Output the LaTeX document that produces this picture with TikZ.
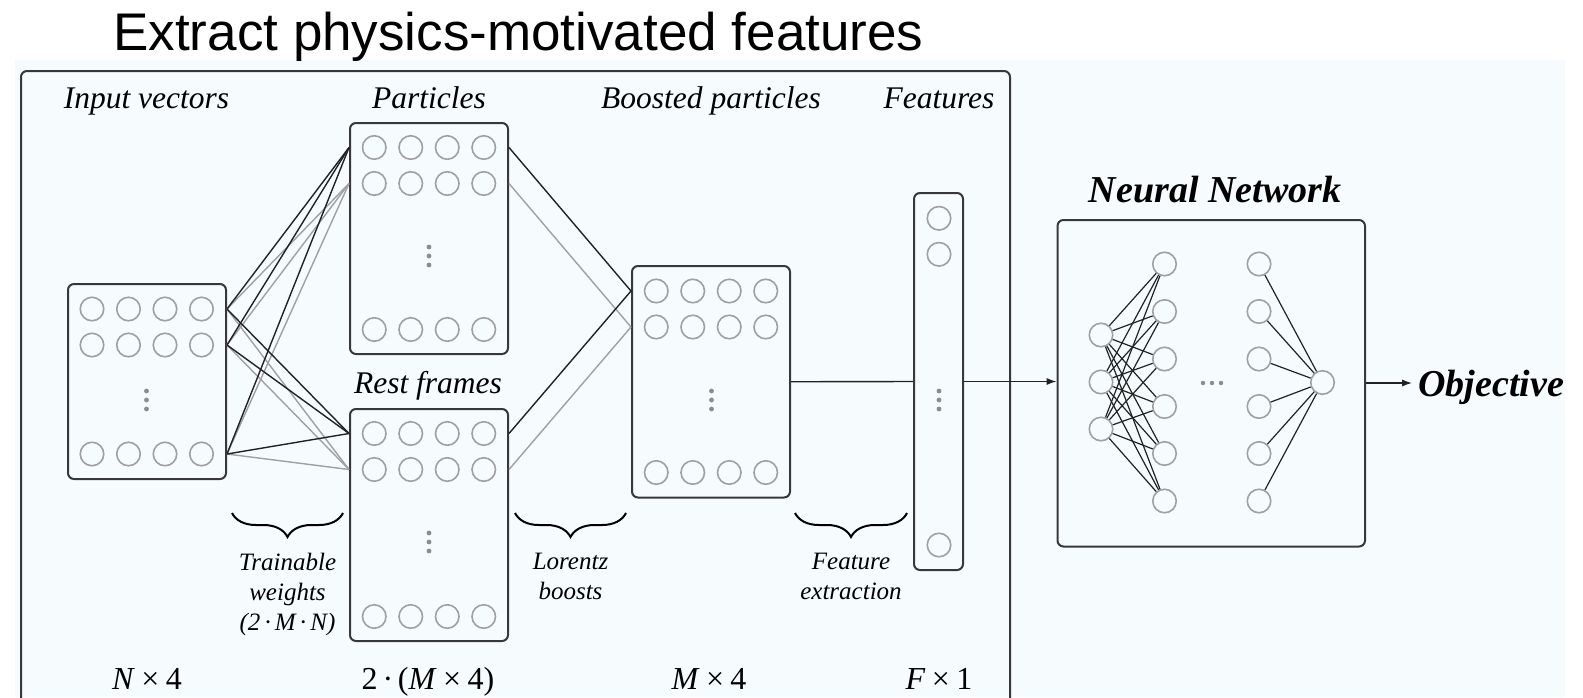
\documentclass[tikz,border=0pt]{standalone}
\usepackage{fontspec}
\setmainfont{Liberation Serif}
\newfontfamily\titlefont{Liberation Sans}
\usetikzlibrary{decorations.pathreplacing,arrows.meta}

\definecolor{panelbg}{RGB}{246,252,254}
\definecolor{boxline}{RGB}{56,56,56}
\definecolor{ringgray}{RGB}{160,160,160}
\definecolor{wiredark}{RGB}{34,34,34}
\definecolor{wirelight}{RGB}{160,160,160}
\definecolor{dotgray}{RGB}{140,140,140}

\begin{document}
\begin{tikzpicture}[x=0.5pt,y=-0.5pt,
  box/.style={draw=boxline,line width=1pt,rounded corners=3pt,inner sep=0pt},
  unit/.style={circle,draw=ringgray,line width=0.8pt,minimum size=11.75pt,inner sep=0pt},
  wiredk/.style={draw=wiredark,line width=0.7pt},
  wirelt/.style={draw=wirelight,line width=0.7pt},
  nnwire/.style={draw=wiredark,line width=0.6pt},
  header/.style={anchor=base,inner sep=0pt,font=\fontsize{15.75}{18}\selectfont\itshape},
  dimlabel/.style={anchor=base,inner sep=0pt,font=\fontsize{16}{19}\selectfont},
  steplabel/.style={anchor=north,inner sep=0pt,align=center,font=\fontsize{12.5}{15}\selectfont\itshape},
  nnlabel/.style={font=\fontsize{19}{22}\selectfont\bfseries\itshape},
  bracepath/.style={draw=black,line width=1pt,decorate,decoration={brace,mirror,amplitude=12pt}},
  flowarrow/.style={draw=wiredark,line width=0.7pt,-{Latex[length=5pt,width=3.6pt]}},
  vdots/.pic={\fill[dotgray] (0,-9) circle (2.4) (0,0) circle (2.4) (0,9) circle (2.4);},
  hdots/.pic={\fill[dotgray] (-9,0) circle (2.2) (0,0) circle (2.2) (9,0) circle (2.2);}
]
\useasboundingbox (0,0) rectangle (1583,697);
\fill[white] (0,0) rectangle (1583,697);
\fill[panelbg] (15,60) rectangle (1565,697);

% title and outer frame of the feature-extraction stage
\node[anchor=base west,inner sep=0pt,font=\titlefont\fontsize{26.5}{30}\selectfont] (title) at (113,50) {Extract physics-motivated features};
\draw[draw=boxline,line width=1pt,rounded corners=3pt] (21,71) -- (21,720) -- (1010,720) -- (1010,71) -- cycle;

% stage headers
\node[header] (h-in) at (146.5,108) {Input vectors};
\node[header] (h-pa) at (429,108) {Particles};
\node[header] (h-bo) at (711,108) {Boosted particles};
\node[header] (h-fe) at (939,108) {Features};
\node[header] (h-re) at (428,393) {Rest frames};

% matrix blocks
\node[box,minimum width=79pt,minimum height=97.5pt] (inbox) at (147,381.5) {};
\node[box,minimum width=79pt,minimum height=115.5pt] (partbox) at (429,238.5) {};
\node[box,minimum width=79pt,minimum height=116pt] (restbox) at (429,525) {};
\node[box,minimum width=79pt,minimum height=115.75pt] (boostbox) at (711,381.75) {};
\node[box,minimum width=24.5pt,minimum height=188.5pt] (featbox) at (938.5,381.5) {};

% four-vector entries
\foreach \r/\y in {1/309,2/345,3/454}
  \foreach \c/\x in {1/92,2/128.5,3/165,4/201.5}
    \node[unit] (in-\r-\c) at (\x,\y) {};
\foreach \r/\y in {1/147.5,2/183.5,3/329.5}
  \foreach \c/\x in {1/374.25,2/410.75,3/447.25,4/483.75}
    \node[unit] (pa-\r-\c) at (\x,\y) {};
\foreach \r/\y in {1/433.5,2/469.5,3/616.5}
  \foreach \c/\x in {1/374.25,2/410.75,3/447.25,4/483.75}
    \node[unit] (re-\r-\c) at (\x,\y) {};
\foreach \r/\y in {1/291,2/327,3/472.5}
  \foreach \c/\x in {1/656.25,2/692.75,3/729.25,4/765.75}
    \node[unit] (bo-\r-\c) at (\x,\y) {};
\foreach \r/\y in {1/218.3,2/254.3,3/545}
  \node[unit] (fe-\r) at (939,\y) {};

\pic (in-dots) at (146.5,400) {vdots};
\pic (pa-dots) at (429,256) {vdots};
\pic (re-dots) at (429,542) {vdots};
\pic (bo-dots) at (711.5,400) {vdots};
\pic (fe-dots) at (939,400) {vdots};

% trainable weights: inputs to particles and rest frames
\foreach \r in {1,2,3} {
  \draw[wirelt] (inbox.east |- in-\r-1) -- (partbox.west |- pa-2-1);
  \draw[wirelt] (inbox.east |- in-\r-1) -- (restbox.west |- re-2-1);
}
\foreach \r in {1,2,3} {
  \draw[wiredk] (inbox.east |- in-\r-1) -- (partbox.west |- pa-1-1);
  \draw[wiredk] (inbox.east |- in-\r-1) -- (restbox.west |- re-1-1);
}

% Lorentz boosts into the rest frames
\draw[wirelt] (partbox.east |- pa-2-1) -- (boostbox.west |- bo-2-1);
\draw[wirelt] (restbox.east |- re-2-1) -- (boostbox.west |- bo-2-1);
\draw[wiredk] (partbox.east |- pa-1-1) -- (boostbox.west |- bo-1-1);
\draw[wiredk] (restbox.east |- re-1-1) -- (boostbox.west |- bo-1-1);

% feature extraction and hand-off to the network
\draw[wiredk] (boostbox.east) -- (featbox.west);

% step braces with their captions
\coordinate (b1l) at (232,513);  \coordinate (b1r) at (343,513);
\coordinate (b2l) at (515,513);  \coordinate (b2r) at (626,513);
\coordinate (b3l) at (795,513);  \coordinate (b3r) at (907,513);
\draw[bracepath] (b1l) -- (b1r);
\draw[bracepath] (b2l) -- (b2r);
\draw[bracepath] (b3l) -- (b3r);
\node[steplabel] (s-weights) at (287.5,553) {Trainable\\weights\\(2\,·\,\textit{M}\,·\,\textit{N})};
\node[steplabel] (s-boosts) at (570.5,553) {Lorentz\\boosts};
\node[steplabel] (s-extract) at (851,553) {Feature\\extraction};

% dimensions
\node[dimlabel] (d-in) at (147,689) {\textit{N}\kern0.2em×\kern0.2em4};
\node[dimlabel] (d-pa) at (428,689) {2\kern0.15em·\kern0.15em(\textit{M}\kern0.2em×\kern0.2em4)};
\node[dimlabel] (d-bo) at (709,689) {\textit{M}\kern0.2em×\kern0.2em4};
\node[dimlabel] (d-fe) at (939,689) {\textit{F}\kern0.2em×\kern0.2em1};

% neural network
\node[nnlabel,anchor=base,inner sep=0pt] (nn-title) at (1215,202.7) {Neural Network};
\node[box,minimum width=153.75pt,minimum height=163.25pt] (nnbox) at (1211.25,383.25) {};
\draw[flowarrow] (featbox.east) -- (nnbox.west |- featbox.east);

\foreach \i/\y in {1/335,2/382,3/429}
  \node[unit] (nin-\i) at (1101,\y) {};
\foreach \j/\y in {1/264,2/311.5,3/359,4/406.5,5/453.5,6/501} {
  \node[unit] (nh-\j) at (1164.5,\y) {};
  \node[unit] (nl-\j) at (1259,\y) {};
}
\node[unit] (nout) at (1322.5,382.5) {};
\pic (nn-dots) at (1212,383) {hdots};

\foreach \i in {1,2,3}
  \foreach \j in {1,...,6}
    \draw[nnwire] (nin-\i) -- (nh-\j);
\foreach \j in {1,...,6}
  \draw[nnwire] (nl-\j) -- (nout);

\node[nnlabel,anchor=base west,inner sep=0pt] (objective) at (1418,396) {Objective};
\coordinate (obj-in) at (1412,383);
\draw[flowarrow] (nnbox.east |- obj-in) -- (obj-in);
\end{tikzpicture}
\end{document}
